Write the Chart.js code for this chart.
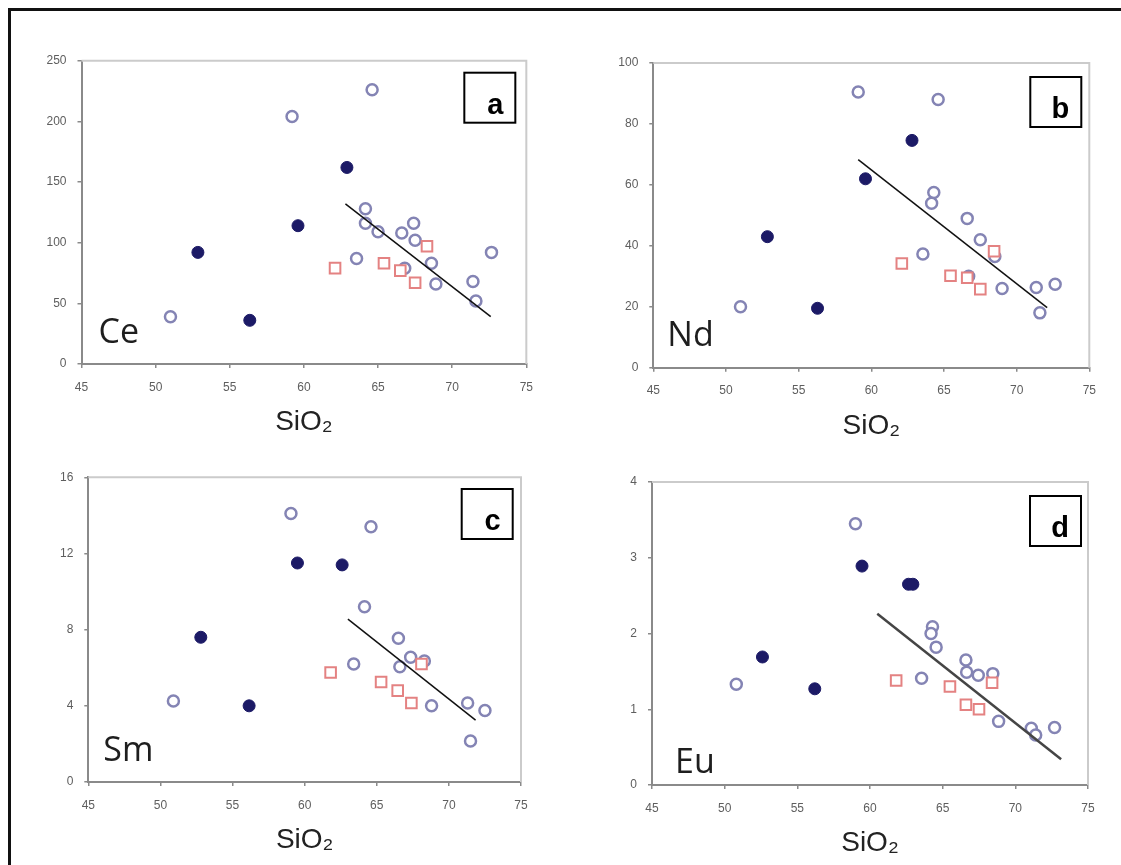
<!DOCTYPE html>
<html>
<head>
<meta charset="utf-8">
<script src="https://cdn.jsdelivr.net/npm/chart.js@4.4.1/dist/chart.umd.min.js"></script>
<style>
  body { margin: 0; background: #fff; }
  #page { position: relative; width: 1121px; height: 865px; overflow: hidden; background: #fff; }
  #frame { position: absolute; left: 8px; top: 8px; width: 1130px; height: 870px;
           border-top: 3px solid #111; border-left: 3px solid #111; }
  canvas { position: absolute; }
</style>
</head>
<body>
<div id="page">
  <div id="frame"></div>
  <canvas id="ce" width="535" height="399" style="left:10px;top:40px"></canvas>
  <canvas id="nd" width="530" height="403" style="left:580px;top:40px"></canvas>
  <canvas id="sm" width="530" height="402" style="left:10px;top:455px"></canvas>
  <canvas id="eu" width="530" height="405" style="left:580px;top:455px"></canvas>
</div>
<script>
// SiO2 (x) vs element (y)
// filled = dark dots, open = open circles, red = open squares
var ceFilled = [[52.85, 92], [56.35, 36], [59.6, 114], [62.9, 162]];
var ceOpen = [[51.0, 39], [59.2, 204], [64.6, 226], [64.15, 128], [64.15, 116], [65.0, 109],
  [63.55, 87], [66.6, 108], [67.4, 116], [67.5, 102], [66.8, 79], [68.6, 83], [68.9, 66],
  [71.4, 68], [71.6, 52], [72.65, 92]];
var ceRed = [[62.1, 79], [65.4, 83], [66.5, 77], [67.5, 67], [68.3, 97]];
var ceTrend = [[62.8, 132], [72.6, 39]];

var ndFilled = [[52.85, 43], [56.3, 19.5], [59.6, 62], [62.8, 74.6]];
var ndOpen = [[51.0, 20], [59.1, 90.5], [64.6, 88], [64.3, 57.5], [64.15, 54], [63.55, 37.3],
  [66.6, 49], [67.5, 42], [66.7, 30], [68.5, 36.5], [69.0, 26], [71.35, 26.3], [71.6, 18],
  [72.65, 27.4]];
var ndRed = [[62.1, 34.2], [65.45, 30.2], [66.6, 29.5], [67.5, 25.8], [68.45, 38.2]];
var ndTrend = [[59.1, 68.3], [72.1, 19.7]];

var smFilled = [[52.8, 7.6], [56.15, 4.0], [59.5, 11.5], [62.6, 11.4]];
var smOpen = [[50.9, 4.25], [59.05, 14.1], [64.6, 13.4], [64.15, 9.2], [63.4, 6.2], [66.5, 7.55],
  [67.35, 6.55], [66.6, 6.05], [68.3, 6.35], [68.8, 4.0], [71.3, 4.15], [72.5, 3.75], [71.5, 2.15]];
var smRed = [[61.8, 5.75], [65.3, 5.25], [66.45, 4.8], [67.4, 4.15], [68.1, 6.2]];
var smTrend = [[63.0, 8.55], [71.85, 3.25]];

var euFilled = [[52.6, 1.69], [56.2, 1.27], [59.45, 2.89], [62.65, 2.65], [62.95, 2.65]];
var euOpen = [[50.8, 1.33], [59.0, 3.45], [64.3, 2.09], [64.2, 2.0], [64.55, 1.82], [63.55, 1.41],
  [66.6, 1.65], [66.65, 1.49], [67.45, 1.45], [68.45, 1.47], [68.85, 0.84], [71.1, 0.75],
  [71.4, 0.66], [72.7, 0.76]];
var euRed = [[61.8, 1.38], [65.5, 1.30], [66.6, 1.06], [67.5, 1.0], [68.4, 1.35]];
var euTrend = [[60.5, 2.26], [73.15, 0.34]];

var xTicks = [45, 50, 55, 60, 65, 70, 75];
var yMax = { ce: 250, nd: 100, sm: 16, eu: 4 };
var yStep = { ce: 50, nd: 20, sm: 4, eu: 1 };

function pts(arr) {
  return arr.map(function (p) { return { x: p[0], y: p[1] }; });
}

// border on top/right, element name, letter box
var deco = {
  id: 'deco',
  afterDatasetsDraw: function (chart, args, o) {
    var ctx = chart.ctx, a = chart.chartArea;
    ctx.save();
    ctx.strokeStyle = '#cbcbcb';
    ctx.lineWidth = 2;
    ctx.beginPath();
    ctx.moveTo(a.left, a.top);
    ctx.lineTo(a.right, a.top);
    ctx.lineTo(a.right, a.bottom);
    ctx.stroke();

    ctx.fillStyle = '#1e1e1e';
    ctx.font = '34px "Open Sans"';
    ctx.textBaseline = 'alphabetic';
    ctx.textAlign = 'left';
    ctx.fillText(o.name, a.left + o.nameDx, a.bottom - o.nameDy);

    var bx = a.right - o.boxDx - 51, by = a.top + o.boxDy;
    ctx.fillStyle = '#fff';
    ctx.fillRect(bx, by, 51, 50);
    ctx.strokeStyle = '#000';
    ctx.lineWidth = 2;
    ctx.strokeRect(bx, by, 51, 50);
    ctx.fillStyle = '#000';
    ctx.font = 'bold 29px "Liberation Sans"';
    ctx.textAlign = 'right';
    ctx.fillText(o.letter, bx + 39, by + 41);
    ctx.restore();
  }
};

function makePanel(id, p) {
  var c = document.getElementById(id);
  new Chart(c, {
    type: 'scatter',
    data: {
      datasets: [
        { type: 'line', data: pts(p.trend), borderColor: p.lineColor, borderWidth: p.lineWidth,
          pointRadius: 0, fill: false, tension: 0 },
        { data: pts(p.filled), pointStyle: 'circle', pointRadius: 6,
          backgroundColor: '#1c1a66', borderColor: '#1c1a66', borderWidth: 1 },
        { data: pts(p.red), pointStyle: 'rect', pointRadius: 7.5,
          backgroundColor: '#fff', borderColor: '#e48282', borderWidth: 2 },
        { data: pts(p.open), pointStyle: 'circle', pointRadius: 5.5,
          backgroundColor: '#fff', borderColor: '#8484b4', borderWidth: 2.5 }
      ]
    },
    options: {
      responsive: false,
      animation: false,
      devicePixelRatio: 1,
      layout: { padding: { left: 0, top: p.padTop, right: p.padRight, bottom: 0 } },
      plugins: {
        legend: { display: false },
        tooltip: { enabled: false },
        deco: { name: p.name, letter: p.letter, nameDx: p.nameDx, nameDy: p.nameDy,
                boxDx: p.boxDx, boxDy: p.boxDy }
      },
      scales: {
        x: {
          type: 'linear', min: 45, max: 75,
          afterBuildTicks: function (s) { s.ticks = xTicks.map(function (v) { return { value: v }; }); },
          afterFit: function (s) { s.height = p.xH; },
          ticks: { color: '#5e5e5e', font: { family: 'Liberation Sans', size: 12 }, padding: 12 },
          grid: { display: true, drawOnChartArea: false, tickLength: 4, color: '#8a8a8a', lineWidth: 1.5 },
          border: { color: '#8a8a8a', width: 2 },
          title: { display: true, text: 'SiO₂', color: '#222',
                   font: { family: 'Liberation Sans', size: 28, lineHeight: 1.2 },
                   padding: { top: 0, bottom: 0 } }
        },
        y: {
          min: 0, max: p.yMax,
          afterFit: function (s) { s.width = p.yW; },
          ticks: { stepSize: p.yStep, color: '#5e5e5e', font: { family: 'Liberation Sans', size: 12 }, padding: 11 },
          grid: { display: true, drawOnChartArea: false, tickLength: 4, color: '#8a8a8a', lineWidth: 1.5 },
          border: { color: '#8a8a8a', width: 2 }
        }
      }
    },
    plugins: [deco]
  });
}

makePanel('ce', { filled: ceFilled, open: ceOpen, red: ceRed, trend: ceTrend,
  yMax: yMax.ce, yStep: yStep.ce, name: 'Ce', letter: 'a',
  yW: 71.5, xH: 75, padTop: 20.7, padRight: 16,
  nameDx: 17, nameDy: 21, boxDx: 11, boxDy: 12, lineColor: '#111', lineWidth: 1.5 });

makePanel('nd', { filled: ndFilled, open: ndOpen, red: ndRed, trend: ndTrend,
  yMax: yMax.nd, yStep: yStep.nd, name: 'Nd', letter: 'b',
  yW: 73.3, xH: 75.3, padTop: 23, padRight: 20.7,
  nameDx: 14, nameDy: 22, boxDx: 8, boxDy: 14, lineColor: '#111', lineWidth: 1.5 });

makePanel('sm', { filled: smFilled, open: smOpen, red: smRed, trend: smTrend,
  yMax: yMax.sm, yStep: yStep.sm, name: 'Sm', letter: 'c',
  yW: 78.3, xH: 75, padTop: 22.3, padRight: 19,
  nameDx: 15, nameDy: 21, boxDx: 8.3, boxDy: 11.7, lineColor: '#111', lineWidth: 1.5 });

makePanel('eu', { filled: euFilled, open: euOpen, red: euRed, trend: euTrend,
  yMax: yMax.eu, yStep: yStep.eu, name: 'Eu', letter: 'd',
  yW: 72, xH: 75, padTop: 27, padRight: 22,
  nameDx: 23, nameDy: 12, boxDx: 7, boxDy: 14, lineColor: '#454545', lineWidth: 2.5 });
</script>
</body>
</html>
